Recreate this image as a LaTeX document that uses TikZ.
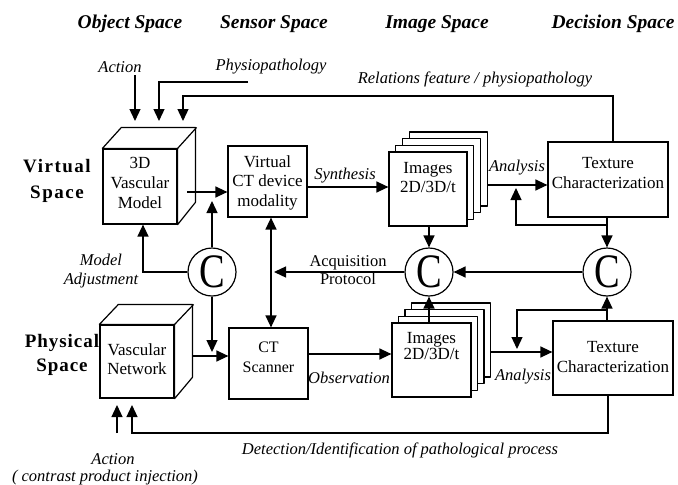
\documentclass[tikz,border=0pt]{standalone}
\usepackage{fontspec}
\setmainfont{Liberation Serif}
\usetikzlibrary{arrows.meta,calc}
\begin{document}
\begin{tikzpicture}[x=1pt,y=-1pt,
  box/.style={draw,line width=1.2pt,fill=white,inner sep=0pt},
  txt/.style={align=center,inner sep=0pt,font=\fontsize{17}{20}\selectfont},
  lab/.style={inner sep=0pt,font=\itshape\fontsize{16.5}{19}\selectfont},
  hdr/.style={inner sep=0pt,font=\bfseries\itshape\fontsize{19.5}{22}\selectfont},
  side/.style={align=center,inner sep=0pt},
  cc/.style={draw,circle,line width=1.2pt,minimum size=48pt,inner sep=0pt,fill=white,font=\fontsize{48}{48}\selectfont},
  arr/.style={line width=1.3pt,-{Triangle[length=12pt,width=11pt]}},
  arrb/.style={line width=1.3pt,{Triangle[length=12pt,width=11pt]}-{Triangle[length=12pt,width=11pt]}},
  ln/.style={line width=1.2pt,line join=round}]
\useasboundingbox (0,0) rectangle (678,485);

% headers
\node[hdr] (hObj) at (130,24) {Object Space};
\node[hdr] (hSen) at (274,24) {Sensor Space};
\node[hdr] (hImg) at (437,24) {Image Space};
\node[hdr] (hDec) at (613,24) {Decision Space};

% side labels
\node[side,font=\bfseries\fontsize{19}{26}\selectfont\addfontfeature{LetterSpace=8}] (vs) at (57,181) {Virtual\\Space};
\node[side,font=\bfseries\fontsize{19}{24}\selectfont\addfontfeature{LetterSpace=5}] (ps) at (62,355) {Physical\\Space};

% cubes
\node[box,minimum width=74pt,minimum height=75pt] (vcube) at (140,186.5) {};
\draw[ln,fill=white] (vcube.north west) -- ++(19,-21) -- ++(74,0) -- ++(0,75) -- (vcube.south east) -- (vcube.north east) -- cycle;
\draw[ln] (vcube.north east) -- ++(19,-21);
\node[txt,font=\fontsize{17}{20}\selectfont] (vcubeT) at (140,183) {3D\\Vascular\\Model};

\node[box,minimum width=74pt,minimum height=73pt] (pcube) at (137,361.5) {};
\draw[ln,fill=white] (pcube.north west) -- ++(19,-20) -- ++(74,0) -- ++(0,73) -- (pcube.south east) -- (pcube.north east) -- cycle;
\draw[ln] (pcube.north east) -- ++(19,-20);
\node[txt,font=\fontsize{17}{18.5}\selectfont] (pcubeT) at (137,359) {Vascular\\Network};

% CT boxes
\node[box,minimum width=79pt,minimum height=71pt] (vct) at (267.5,181.5) {};
\node[txt,font=\fontsize{17}{19.5}\selectfont] (vctT) at (267.5,182.5) {Virtual\\CT device\\modality};
\node[box,minimum width=79pt,minimum height=71pt] (pct) at (268.5,363.5) {};
\node[txt,font=\fontsize{16}{20}\selectfont] (pctT) at (268.5,357) {CT\\Scanner};

% image stacks
\coordinate (vimgc) at (428,189);
\foreach \k in {3,2,1}
  \draw[ln,fill=white] ($(vimgc)+(-39+\k*6.7,37-\k*6.7)$) rectangle ($(vimgc)+(39+\k*6.7,-37-\k*6.7)$);
\node[box,minimum width=78pt,minimum height=74pt] (vimg) at (vimgc) {};
\node[txt,font=\fontsize{17}{19}\selectfont] (vimgT) at (428,177.5) {Images\\2D/3D/t};

\coordinate (pimgc) at (431.5,360);
\foreach \k in {3,2,1}
  \draw[ln,fill=white] ($(pimgc)+(-39.5+\k*6.5,37-\k*6.7)$) rectangle ($(pimgc)+(39.5+\k*6.5,-37-\k*6.7)$);
\node[box,minimum width=79pt,minimum height=74pt] (pimg) at (pimgc) {};
\node[txt,font=\fontsize{17}{16}\selectfont] (pimgT) at (431.5,346.5) {Images\\2D/3D/t};

% texture boxes
\node[box,minimum width=120pt,minimum height=75pt] (vtex) at (608,179.5) {};
\node[txt] (vtexT) at (608,173) {Texture\\Characterization};
\node[box,minimum width=120pt,minimum height=74pt] (ptex) at (613,358) {};
\node[txt] (ptexT) at (613,357) {Texture\\Characterization};

% comparison circles
\node[cc] (c1) at (212,272) {\scalebox{0.8}[1]{C}};
\node[cc] (c2) at (429,272) {\scalebox{0.8}[1]{C}};
\node[cc] (c3) at (607,272) {\scalebox{0.8}[1]{C}};

% helper coordinates
\coordinate (actS) at (135,75);
\coordinate (actT) at (135,121);
\coordinate (phyS) at (248,82);
\coordinate (phyT) at (159,121);
\coordinate (relS) at (613,142);
\coordinate (relT) at (183,121);
\coordinate (relY) at (0,96);
\coordinate (vOut) at (187,192);
\coordinate (pOut) at (192,356);
\coordinate (c1upT) at (212,201);
\coordinate (c1dnT) at (212,352);
\coordinate (modX) at (143,0);
\coordinate (xline) at (271,0);
\coordinate (acqT) at (274,272);
\coordinate (ySyn) at (0,187);
\coordinate (anaUS) at (488,185);
\coordinate (fbU) at (607,225);
\coordinate (fbUT) at (516,188);
\coordinate (obsY) at (0,354);
\coordinate (anaLS) at (491,352);
\coordinate (fbL) at (607,310);
\coordinate (fbLT) at (517,349);
\coordinate (detS) at (608,395);
\coordinate (detC) at (608,433);
\coordinate (detT) at (132,405);
\coordinate (act2S) at (117,433);
\coordinate (act2T) at (117,405);

% connectors
\draw[arr] (actS) -- (actT);
\draw[arr] (phyS) -| (phyT);
\draw[arr] (relS) |- (relT |- relY) -- (relT);
\draw[arr] (vOut) -- (vOut -| vct.west);
\draw[arr] (c1.north) -- (c1upT);
\draw[arr] (c1.south) -- (c1dnT);
\draw[arr] (pOut) -- (pOut -| pct.west);
\draw[arr] (c1.west) -| (vcube.south -| modX);
\draw[arrb] (vct.south -| xline) -- (pct.north -| xline);
\draw[arr] (c2.west) -- (acqT);
\draw[arr] (vct.east |- ySyn) -- (vimg.west |- ySyn);
\draw[arr] (vimg.south -| c2) -- (c2.north);
\draw[arr] (c3.west) -- (c2.east);
\draw[arr] (anaUS) -- (anaUS -| vtex.west);
\draw[arr] (vtex.south -| c3) -- (c3.north);
\draw[arr] (fbU) -| (fbUT);
\draw[arr] (pimg.north -| c2) -- (c2.south);
\draw[arr] (pct.east |- obsY) -- (pimg.west |- obsY);
\draw[arr] (anaLS) -- (anaLS -| ptex.west);
\draw[arr] (ptex.north -| c3) -- (c3.south);
\draw[arr] (fbL) -| (fbLT);
\draw[arr] (detS) -- (detC) -| (detT);
\draw[arr] (act2S) -- (act2T);

% labels
\node[lab] (lAct) at (120,67) {Action};
\node[lab] (lPhy) at (271,67) {Physiopathology};
\node[lab] (lRel) at (475,79) {Relations feature / physiopathology};
\node[lab] (lSyn) at (345,176) {Synthesis};
\node[lab] (lAna1) at (517,168) {Analysis};
\node[lab,align=center] (lMod) at (101,271.5) {Model\\Adjustment};
\node[align=center,inner sep=0pt,font=\fontsize{16.5}{18}\selectfont] (lAcq) at (348,270) {Acquisition\\Protocol};
\node[lab] (lObs) at (349,378) {Observation};
\node[lab] (lAna2) at (523,377) {Analysis};
\node[lab] (lDet) at (400,450) {Detection/Identification of pathological process};
\node[lab] (lAct2) at (113,459) {Action};
\node[lab] (lCon) at (105,478) {( contrast product injection)};
\end{tikzpicture}
\end{document}
